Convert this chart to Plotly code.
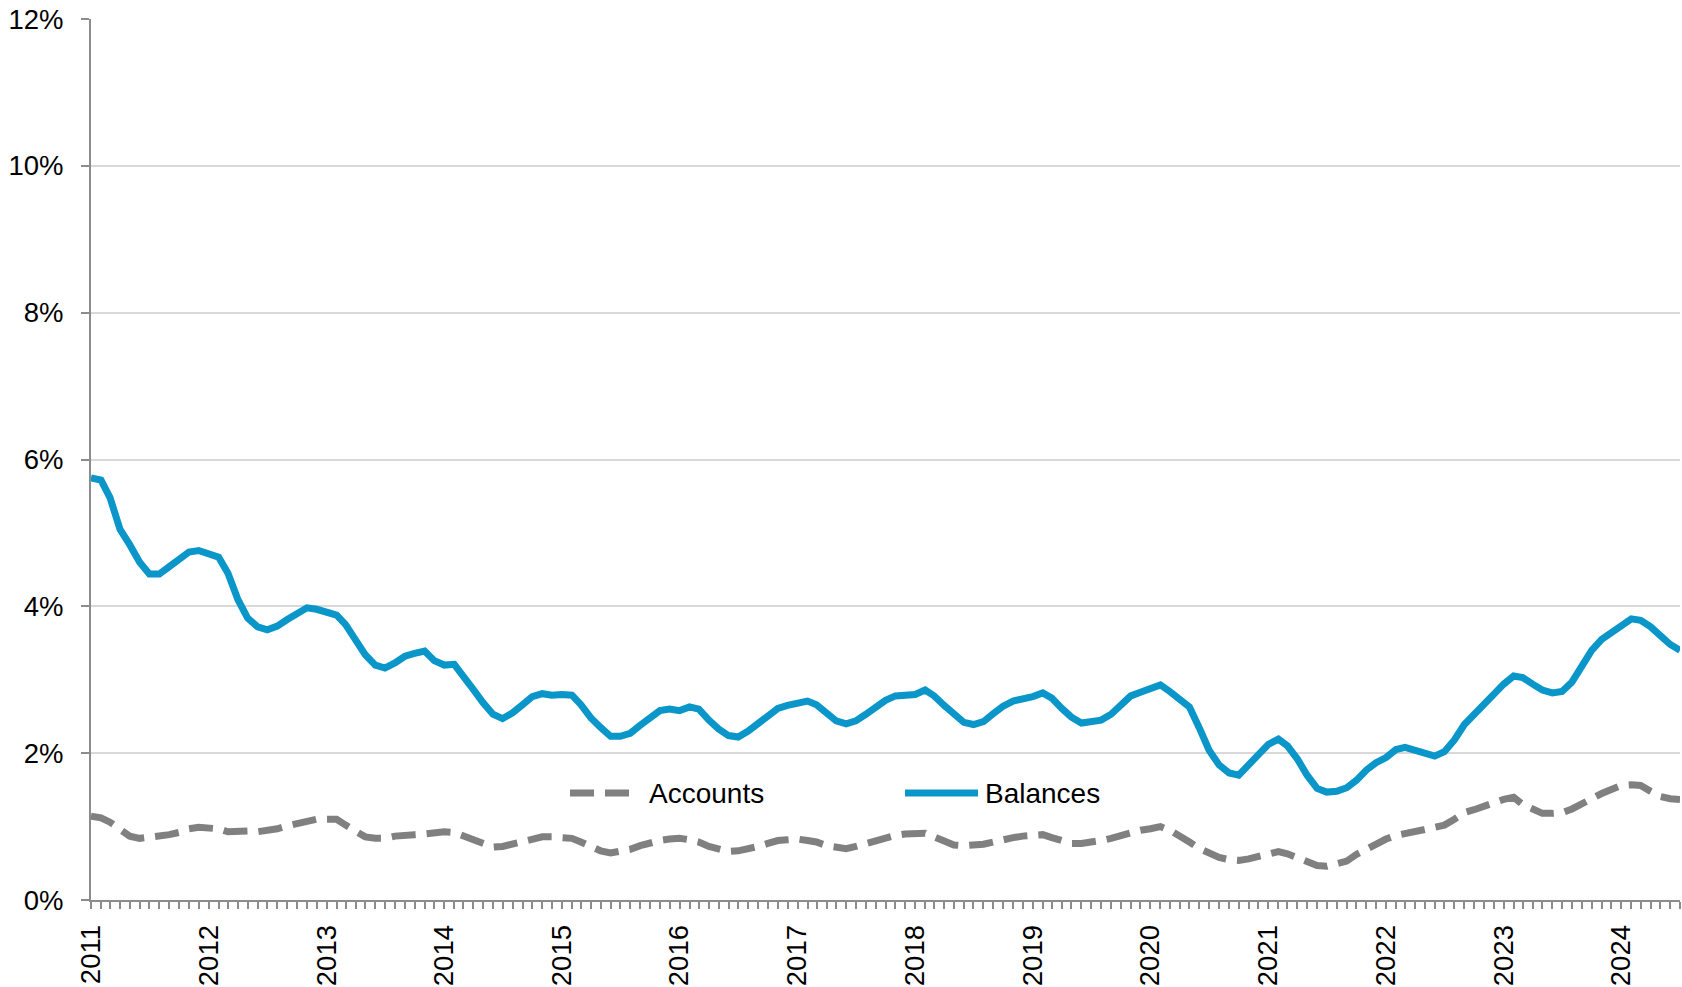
import pandas as pd
import plotly.graph_objects as go

# monthly, Jan 2011 - Jul 2024
months = pd.date_range("2011-01-01", periods=163, freq="MS")

balances = [
    5.75, 5.72, 5.48, 5.05, 4.84, 4.60, 4.44, 4.44, 4.54, 4.64, 4.74, 4.76,
    4.71, 4.67, 4.45, 4.09, 3.84, 3.72, 3.68, 3.73, 3.82, 3.91, 3.98, 3.96,
    3.92, 3.88, 3.75, 3.55, 3.34, 3.20, 3.16, 3.23, 3.32, 3.36, 3.39, 3.26,
    3.20, 3.21, 3.06, 2.87, 2.69, 2.53, 2.47, 2.55, 2.66, 2.77, 2.81, 2.79,
    2.80, 2.79, 2.66, 2.48, 2.35, 2.23, 2.23, 2.27, 2.38, 2.49, 2.58, 2.60,
    2.58, 2.63, 2.60, 2.45, 2.33, 2.24, 2.22, 2.30, 2.41, 2.53, 2.61, 2.65,
    2.67, 2.71, 2.66, 2.54, 2.44, 2.40, 2.44, 2.53, 2.63, 2.72, 2.78, 2.79,
    2.80, 2.86, 2.78, 2.65, 2.53, 2.42, 2.39, 2.43, 2.54, 2.64, 2.71, 2.73,
    2.77, 2.82, 2.75, 2.61, 2.49, 2.41, 2.42, 2.45, 2.53, 2.65, 2.78, 2.83,
    2.89, 2.93, 2.84, 2.73, 2.63, 2.34, 2.04, 1.84, 1.73, 1.70, 1.83, 1.98,
    2.12, 2.19, 2.10, 1.92, 1.70, 1.52, 1.47, 1.48, 1.53, 1.63, 1.77, 1.87,
    1.94, 2.05, 2.08, 2.04, 1.99, 1.96, 2.02, 2.18, 2.39, 2.53, 2.69, 2.82,
    2.94, 3.05, 3.03, 2.94, 2.86, 2.82, 2.84, 2.97, 3.20, 3.40, 3.55, 3.65,
    3.73, 3.83, 3.81, 3.72, 3.60, 3.48, 3.40,
]

accounts = [
    1.14, 1.12, 1.06, 0.95, 0.87, 0.84, 0.85, 0.86, 0.89, 0.92, 0.97, 0.99,
    0.99, 0.97, 0.93, 0.94, 0.94, 0.93, 0.94, 0.97, 1.01, 1.04, 1.07, 1.10,
    1.10, 1.10, 1.02, 0.94, 0.86, 0.84, 0.84, 0.87, 0.89, 0.89, 0.90, 0.92,
    0.93, 0.92, 0.87, 0.81, 0.75, 0.72, 0.73, 0.76, 0.79, 0.84, 0.86, 0.86,
    0.86, 0.84, 0.79, 0.73, 0.67, 0.64, 0.66, 0.69, 0.74, 0.78, 0.81, 0.83,
    0.84, 0.82, 0.79, 0.73, 0.69, 0.66, 0.67, 0.69, 0.73, 0.77, 0.81, 0.82,
    0.83, 0.81, 0.79, 0.74, 0.71, 0.70, 0.73, 0.77, 0.81, 0.85, 0.88, 0.90,
    0.91, 0.91, 0.86, 0.80, 0.75, 0.74, 0.74, 0.76, 0.79, 0.83, 0.85, 0.87,
    0.88, 0.89, 0.85, 0.81, 0.77, 0.77, 0.78, 0.81, 0.84, 0.88, 0.92, 0.95,
    0.97, 1.00, 0.95, 0.88, 0.79, 0.70, 0.64, 0.58, 0.55, 0.54, 0.56, 0.60,
    0.64, 0.66, 0.63, 0.58, 0.51, 0.47, 0.46, 0.49, 0.53, 0.62, 0.70, 0.77,
    0.83, 0.88, 0.90, 0.93, 0.96, 0.99, 1.02, 1.10, 1.19, 1.23, 1.28, 1.33,
    1.37, 1.40, 1.30, 1.24, 1.18, 1.18, 1.19, 1.24, 1.30, 1.38, 1.45, 1.51,
    1.56, 1.57, 1.56, 1.48, 1.41, 1.38, 1.37,
]

year_ticks = pd.date_range("2011-01-01", "2024-01-01", freq="YS")
year_labels = [str(d.year) for d in year_ticks]

BLUE = "#0A96C8"
GREY = "#808080"
AXIS = "#8C8C8C"
FONT = "Liberation Sans, Arial, sans-serif"

W, H = 1682, 987
L, R, T, B = 91, 2, 19, 87
LW = 7

fig = go.Figure()

fig.add_trace(go.Scatter(
    x=months, y=accounts, name="Accounts", mode="lines",
    line=dict(color=GREY, width=LW, dash="24px,11px"),
    showlegend=False,
))
fig.add_trace(go.Scatter(
    x=months, y=balances, name="Balances", mode="lines",
    line=dict(color=BLUE, width=LW),
    showlegend=False,
))

# hand-drawn legend (long line samples like the original), screen px -> paper
plot_w = W - L - R
plot_h = H - T - B


def px_x(p):
    return (p - L) / plot_w


def px_y(p):
    return (H - B - p) / plot_h


leg_y = px_y(793)
legend_items = [
    ("Accounts", GREY, "24px,11px", 570, 634, 647),
    ("Balances", BLUE, "solid", 905, 978, 983),
]
for label, color, dash, x0, x1, tx in legend_items:
    fig.add_shape(
        type="line", xref="paper", yref="paper",
        x0=px_x(x0), x1=px_x(x1), y0=leg_y, y1=leg_y,
        line=dict(color=color, width=LW, dash=dash),
    )
    fig.add_annotation(
        text=label, xref="paper", yref="paper",
        x=px_x(tx), y=leg_y, xanchor="left", yanchor="middle",
        showarrow=False, font=dict(size=28, color="#000000", family=FONT),
    )

fig.update_layout(
    width=W, height=H,
    margin=dict(l=L, r=R, t=T, b=B, autoexpand=False),
    plot_bgcolor="white", paper_bgcolor="white",
    font=dict(family=FONT, size=27.5, color="#000000"),
    showlegend=False,
)

fig.update_xaxes(
    range=[months[0], months[-1]],
    tickvals=list(year_ticks), ticktext=year_labels,
    tickangle=-90,
    ticks="outside", ticklen=7, tickwidth=2, tickcolor=AXIS,
    minor=dict(dtick="M1", ticks="outside", ticklen=7, tickwidth=2,
               tickcolor=AXIS, showgrid=False),
    showline=True, linecolor=AXIS, linewidth=2,
    showgrid=False, zeroline=False,
    automargin=False,
    ticklabeloverflow="allow",
    ticklabelstandoff=5,
)

fig.update_yaxes(
    range=[0, 12], dtick=2, ticksuffix="%",
    ticks="outside", ticklen=8, tickwidth=2, tickcolor=AXIS,
    showline=True, linecolor=AXIS, linewidth=2,
    showgrid=True, gridcolor="#D9D9D9", gridwidth=2,
    zeroline=False,
    automargin=False,
    ticklabeloverflow="allow",
    ticklabelstandoff=12,
)

# drop the page's default body margin so the figure sits at the window corner
fig.write_html(
    "out.html",
    config={"displayModeBar": False},
    post_script="document.body.style.margin = '0';",
)
